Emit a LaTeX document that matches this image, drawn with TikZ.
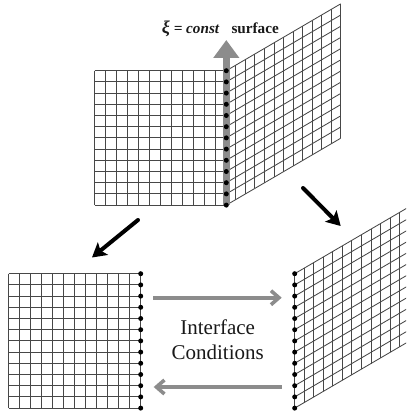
\documentclass[tikz,border=0pt]{standalone}
\usepackage{fontspec}
\setmainfont{Liberation Serif}
\usetikzlibrary{arrows.meta}
\definecolor{arrowgray}{gray}{0.55}
\tikzset{
  gridline/.style={draw=black!72,line width=0.85pt},
  dotnode/.style={circle,fill=black,inner sep=0pt,minimum size=5pt},
  blackarrow/.style={draw=black,line width=4pt,line cap=round,-{Stealth[length=14pt,width=16pt,inset=3pt]}},
  surfacearrow/.style={draw=arrowgray,line width=7.5pt,-{Triangle[length=18pt,width=25pt]}},
  transferarrow/.style={draw=arrowgray,line width=3.6pt,-{Straight Barb[length=8pt,width=14pt,line width=3.6pt]}},
  labeltext/.style={font=\fontsize{21}{25}\selectfont,align=center,text=black!90,inner sep=0pt},
  titletext/.style={font=\fontsize{15.2}{18}\selectfont\bfseries,text=black!90,inner sep=0pt,anchor=base west}
}
% #1 x0, #2 y0 (top left), #3 cell width, #4 cell height, #5 shear per cell
\newcommand{\meshgrid}[5]{%
  \foreach \ci in {0,...,12}{%
    \draw[gridline] ({#1+\ci*#3},{#2-\ci*#5}) -- ({#1+\ci*#3},{#2+12*#4-\ci*#5});
    \draw[gridline] (#1,{#2+\ci*#4}) -- ({#1+12*#3},{#2+\ci*#4-12*#5});
  }%
}
\begin{document}
\begin{tikzpicture}[x=1pt,y=-1pt]
\useasboundingbox (0,0) rectangle (406,414);
% top pair
\meshgrid{94.7}{70.7}{10.95}{11.2}{0}
\meshgrid{226.3}{70.7}{9.53}{11.2}{5.57}
\coordinate (upstart) at (226.3,205);
\coordinate (upend) at (226.3,40);
\draw[surfacearrow] (upstart) -- (upend);
\foreach \k in {0,...,12}{\node[dotnode] (ta\k) at (226.3,{70.7+\k*11.2}) {};}
% lower left
\meshgrid{8.7}{273.7}{11}{11.2}{0}
\foreach \k in {0,...,12}{\node[dotnode] (bl\k) at (140.7,{273.7+\k*11.2}) {};}
% lower right
\begin{scope}
\clip (280,190) rectangle (406,414);
\meshgrid{294.7}{273.7}{9.53}{11.2}{5.57}
\end{scope}
\foreach \k in {0,...,12}{\node[dotnode] (br\k) at (294.7,{273.7+\k*11.2}) {};}
% black arrows
\coordinate (la) at (138,220);
\coordinate (lb) at (92,257.5);
\coordinate (ra) at (303,188);
\coordinate (rb) at (340.7,226);
\draw[blackarrow] (la) -- (lb);
\draw[blackarrow] (ra) -- (rb);
% interface arrows
\coordinate (ia) at (153,297.7);
\coordinate (ib) at (281.7,297.7);
\coordinate (ic) at (281.7,387);
\coordinate (id) at (153.7,387);
\draw[transferarrow] (ia) -- (ib);
\draw[transferarrow] (ic) -- (id);
% texts
\node[labeltext] (iface) at (217.7,340) {Interface\\Conditions};
\node[titletext] (title) at (161.7,33.5) {\textit{{\fontsize{18}{18}\selectfont ξ} = const}\hspace{12pt}surface};
\end{tikzpicture}
\end{document}
